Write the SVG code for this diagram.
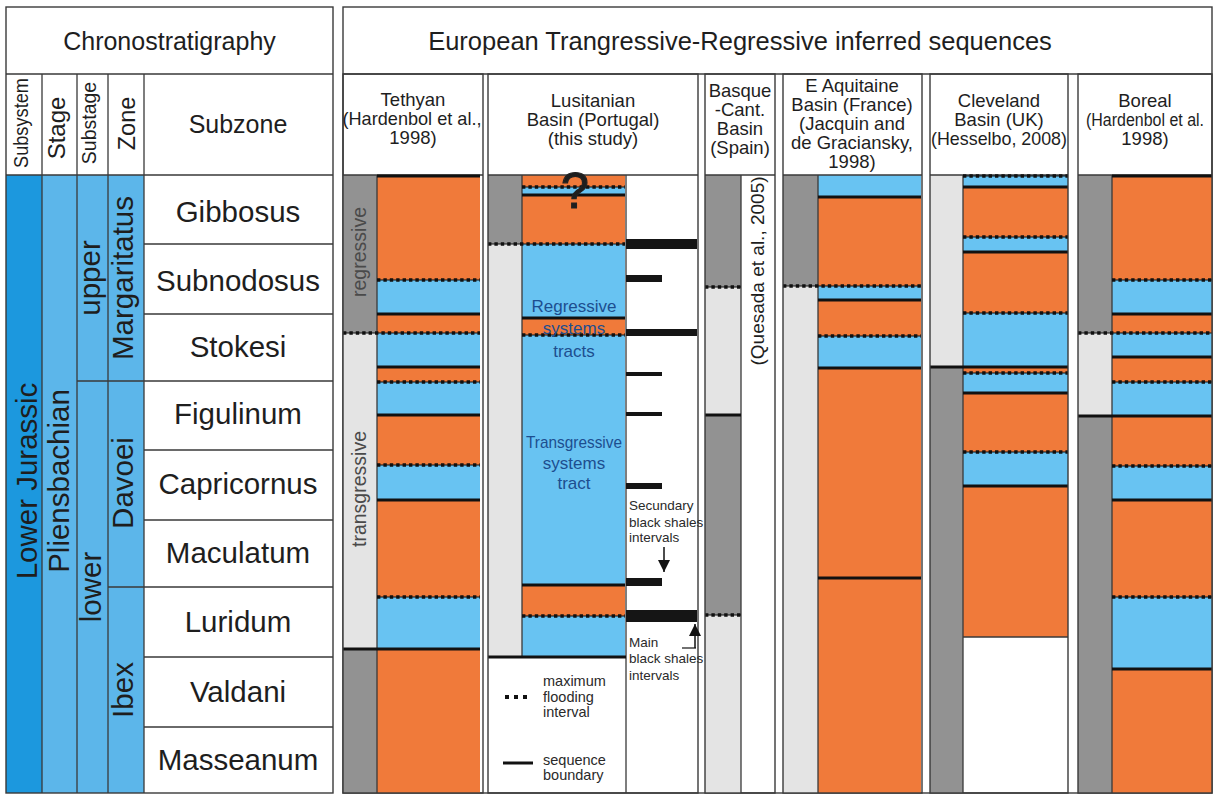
<svg xmlns="http://www.w3.org/2000/svg" width="1213" height="794" viewBox="0 0 1213 794">
<style>
text{font-family:"Liberation Sans",Arial,sans-serif;fill:#1e1e1e}
.o{fill:#F07A3A}
.b{fill:#68C3F2}
.dg{fill:#929292}
.lg{fill:#E4E4E4}
.c1{fill:#1C98DE}
.c2{fill:#5CB6EA}
.frame{fill:none;stroke:#3a3a3a;stroke-width:1.4}
.thin{fill:none;stroke:#3a3a3a;stroke-width:1.3}
.sb{fill:none;stroke:#111;stroke-width:3}
.mf{fill:none;stroke:#111;stroke-width:1.2}
.mfd{fill:none;stroke:#111;stroke-width:3.6;stroke-dasharray:3.4 3}
.bs{fill:#151515}
.h{font-size:18.5px;text-anchor:middle}
.big{font-size:25px;text-anchor:middle}
.sz{font-size:29.5px;text-anchor:middle}
.tr{font-size:19.5px;text-anchor:middle;fill:#4a4a4a}
.sys{font-size:17px;text-anchor:middle;fill:#1d4e8f}
.note{font-size:13.5px;fill:#2a2a2a}
.leg{font-size:14.5px;fill:#2a2a2a}
</style>
<defs>
<marker id="ah" viewBox="0 0 10 10" refX="10" refY="5" markerWidth="12" markerHeight="14" markerUnits="userSpaceOnUse" orient="auto">
<path d="M0 0L10 5L0 10Z" fill="#111"/>
</marker>
<!-- maximum flooding surfaces, one path per column -->
<path id="mfT" d="M377 280H480M343 333H480M377 382H480M377 465H480M377 597H480"/>
<path id="mfL" d="M522 187H625M488 244H625M522 335H625M522 616H625"/>
<path id="mfB" d="M705 287H741M705 615H741"/>
<path id="mfA" d="M783 286H921M818 336H921"/>
<path id="mfC" d="M963 176H1068M963 237H1068M963 313H1068M963 373H1068M963 452H1068"/>
<path id="mfR" d="M1112 280H1212M1078 333H1212M1112 382H1212M1112 466H1212M1112 597H1212"/>
</defs>
<rect width="1213" height="794" fill="#fff"/>

<!-- Chronostratigraphy panel -->
<g id="chrono">
<rect class="c1" x="6" y="175" width="36" height="618"/>
<rect class="c2" x="42" y="175" width="102" height="618"/>
<path class="thin" d="M6 74H333M6 175H333M144 244H333M144 314H333M77 381H333M144 450H333M144 520H333M108 587H333M144 657H333M144 727H333M42 74V793M77 74V793M108 74V793M144 74V793"/>
<rect class="frame" x="6" y="7" width="327" height="786"/>
<text class="big" x="169.5" y="50">Chronostratigraphy</text>
<text class="big" x="238" y="133">Subzone</text>
<text font-size="20" text-anchor="middle" textLength="90" lengthAdjust="spacingAndGlyphs" transform="translate(28 123) rotate(-90)">Subsystem</text>
<text font-size="24" text-anchor="middle" transform="translate(65 128) rotate(-90)">Stage</text>
<text font-size="19.5" text-anchor="middle" transform="translate(96 123) rotate(-90)">Substage</text>
<text font-size="23.5" text-anchor="middle" transform="translate(135 123.5) rotate(-90)">Zone</text>
<text class="sz" transform="translate(37 481) rotate(-90)">Lower Jurassic</text>
<text class="sz" transform="translate(69 481) rotate(-90)">Pliensbachian</text>
<text class="sz" transform="translate(100 278) rotate(-90)">upper</text>
<text class="sz" transform="translate(101 587) rotate(-90)">lower</text>
<text class="sz" transform="translate(133 278) rotate(-90)">Margaritatus</text>
<text class="sz" transform="translate(133 483) rotate(-90)">Davoei</text>
<text class="sz" transform="translate(133 690) rotate(-90)">Ibex</text>
<text class="sz" x="238" y="222">Gibbosus</text>
<text class="sz" x="238" y="291">Subnodosus</text>
<text class="sz" x="238" y="357">Stokesi</text>
<text class="sz" x="238" y="424">Figulinum</text>
<text class="sz" x="238" y="494">Capricornus</text>
<text class="sz" x="238" y="563">Maculatum</text>
<text class="sz" x="238" y="632">Luridum</text>
<text class="sz" x="238" y="702">Valdani</text>
<text class="sz" x="238" y="770">Masseanum</text>
</g>

<!-- Sequences panel frame and title -->
<g id="panel">
<rect class="frame" x="343" y="7" width="869" height="786"/>
<path class="thin" d="M343 74H1212"/>
<text x="740" y="50" font-size="25.5" text-anchor="middle">European Trangressive-Regressive inferred sequences</text>
</g>

<!-- Tethyan -->
<g id="tethyan">
<rect class="dg" x="343" y="175" width="34" height="158"/>
<rect class="lg" x="343" y="333" width="34" height="316"/>
<rect class="dg" x="343" y="649" width="34" height="144"/>
<rect class="o" x="377" y="175" width="103" height="618"/>
<rect class="b" x="377" y="280" width="103" height="34"/>
<rect class="b" x="377" y="333" width="103" height="34"/>
<rect class="b" x="377" y="382" width="103" height="33"/>
<rect class="b" x="377" y="465" width="103" height="35"/>
<rect class="b" x="377" y="597" width="103" height="52"/>
<path class="thin" d="M377 175V793M343 175H483"/>
<path class="sb" d="M377 176H480M377 314H480M377 367H480M377 415H480M377 500H480M343 649H480"/>
<use href="#mfT" class="mf"/>
<use href="#mfT" class="mfd"/>
<rect class="frame" x="343" y="74" width="140" height="719"/>
<text class="h" x="413" y="106">Tethyan</text>
<text class="h" x="412" y="125" textLength="139" lengthAdjust="spacingAndGlyphs">(Hardenbol et al.,</text>
<text class="h" x="413" y="144">1998)</text>
<text class="tr" transform="translate(366 252) rotate(-90)">regressive</text>
<text class="tr" transform="translate(366 489) rotate(-90)">transgressive</text>
</g>

<!-- Lusitanian Basin -->
<g id="lusitanian">
<rect class="dg" x="488" y="175" width="34" height="69"/>
<rect class="lg" x="488" y="244" width="34" height="413"/>
<rect class="o" x="522" y="175" width="103" height="482"/>
<rect class="b" x="522" y="187" width="103" height="8"/>
<rect class="b" x="522" y="244" width="103" height="74"/>
<rect class="b" x="522" y="335" width="103" height="250"/>
<rect class="b" x="522" y="616" width="103" height="41"/>
<path class="thin" d="M522 175V657M626 175V793M488 175H698"/>
<path class="sb" d="M522 195H625M522 318H625M522 585H625M488 657H626"/>
<use href="#mfL" class="mf"/>
<use href="#mfL" class="mfd"/>
<rect class="bs" x="626" y="239" width="71" height="10"/>
<rect class="bs" x="626" y="275" width="36" height="7"/>
<rect class="bs" x="626" y="329" width="71" height="7"/>
<rect class="bs" x="626" y="372" width="36" height="4"/>
<rect class="bs" x="626" y="412" width="36" height="4"/>
<rect class="bs" x="626" y="483" width="36" height="6"/>
<rect class="bs" x="626" y="578" width="36" height="8"/>
<rect class="bs" x="626" y="610" width="71" height="12"/>
<rect class="frame" x="488" y="74" width="210" height="719"/>
<text class="h" x="593" y="107">Lusitanian</text>
<text class="h" x="593" y="126">Basin (Portugal)</text>
<text class="h" x="593" y="145">(this study)</text>
<text x="575" y="208" font-size="50" text-anchor="middle" fill="#222" stroke="#222" stroke-width="1.2">?</text>
<text class="sys" x="574" y="312">Regressive</text>
<text class="sys" x="574" y="334">systems</text>
<text class="sys" x="574" y="357">tracts</text>
<text class="sys" x="574" y="448" textLength="96" lengthAdjust="spacingAndGlyphs">Transgressive</text>
<text class="sys" x="574" y="469">systems</text>
<text class="sys" x="574" y="489">tract</text>
<text class="note" x="629" y="510">Secundary</text>
<text class="note" x="629" y="527">black shales</text>
<text class="note" x="629" y="542">intervals</text>
<text class="note" x="629" y="647">Main</text>
<text class="note" x="629" y="663">black shales</text>
<text class="note" x="629" y="680">intervals</text>
</g>

<!-- Legend inside the Lusitanian column -->
<g id="legend">
<path d="M505 697H529" fill="none" stroke="#111" stroke-width="4" stroke-dasharray="4 5"/>
<path class="sb" d="M503 763H533" stroke-width="4"/>
<text class="leg" x="543" y="686">maximum</text>
<text class="leg" x="543" y="702">flooding</text>
<text class="leg" x="543" y="717">interval</text>
<text class="leg" x="543" y="765">sequence</text>
<text class="leg" x="543" y="780">boundary</text>
</g>

<!-- Basque-Cantabrian Basin -->
<g id="basque">
<rect class="dg" x="705" y="175" width="36" height="112"/>
<rect class="lg" x="705" y="287" width="36" height="128"/>
<rect class="dg" x="705" y="415" width="36" height="200"/>
<rect class="lg" x="705" y="615" width="36" height="178"/>
<path class="thin" d="M741 175V793M705 175H775"/>
<path class="sb" d="M705 415H741"/>
<use href="#mfB" class="mf"/>
<use href="#mfB" class="mfd"/>
<rect class="frame" x="705" y="74" width="70" height="719"/>
<text class="h" x="740" y="97">Basque</text>
<text class="h" x="740" y="116">-Cant.</text>
<text class="h" x="740" y="135">Basin</text>
<text class="h" x="740" y="154">(Spain)</text>
<text font-size="19" text-anchor="middle" transform="translate(764 271) rotate(-90)">(Quesada et al., 2005)</text>
</g>

<!-- E Aquitaine Basin -->
<g id="aquitaine">
<rect class="dg" x="783" y="175" width="35" height="111"/>
<rect class="lg" x="783" y="286" width="35" height="507"/>
<rect class="o" x="818" y="175" width="103" height="618"/>
<rect class="b" x="818" y="175" width="103" height="22"/>
<rect class="b" x="818" y="286" width="103" height="14"/>
<rect class="b" x="818" y="336" width="103" height="32"/>
<path class="thin" d="M818 175V793M783 175H922"/>
<path class="sb" d="M818 197H921M818 300H921M818 368H921M818 578H921"/>
<use href="#mfA" class="mf"/>
<use href="#mfA" class="mfd"/>
<rect class="frame" x="783" y="74" width="139" height="719"/>
<text class="h" x="852" y="92">E Aquitaine</text>
<text class="h" x="852" y="111">Basin (France)</text>
<text class="h" x="852" y="130">(Jacquin and</text>
<text class="h" x="852" y="149">de Graciansky,</text>
<text class="h" x="852" y="168">1998)</text>
</g>

<!-- Cleveland Basin -->
<g id="cleveland">
<rect class="lg" x="930" y="175" width="33" height="192"/>
<rect class="dg" x="930" y="367" width="33" height="426"/>
<rect class="o" x="963" y="175" width="105" height="462"/>
<rect class="b" x="963" y="175" width="105" height="12"/>
<rect class="b" x="963" y="237" width="105" height="15"/>
<rect class="b" x="963" y="313" width="105" height="54"/>
<rect class="b" x="963" y="373" width="105" height="20"/>
<rect class="b" x="963" y="452" width="105" height="34"/>
<path class="thin" d="M963 175V793M930 175H1068M963 637H1068"/>
<path class="sb" d="M963 187H1068M963 252H1068M930 367H1068M963 393H1068M963 486H1068"/>
<use href="#mfC" class="mf"/>
<use href="#mfC" class="mfd"/>
<rect class="frame" x="930" y="74" width="138" height="719"/>
<text class="h" x="999" y="107">Cleveland</text>
<text class="h" x="999" y="126">Basin (UK)</text>
<text class="h" x="999" y="145" textLength="136" lengthAdjust="spacingAndGlyphs">(Hesselbo, 2008)</text>
</g>

<!-- Boreal -->
<g id="boreal">
<rect class="dg" x="1078" y="175" width="34" height="158"/>
<rect class="lg" x="1078" y="333" width="34" height="83"/>
<rect class="dg" x="1078" y="416" width="34" height="377"/>
<rect class="o" x="1112" y="175" width="100" height="618"/>
<rect class="b" x="1112" y="280" width="100" height="34"/>
<rect class="b" x="1112" y="333" width="100" height="24"/>
<rect class="b" x="1112" y="382" width="100" height="34"/>
<rect class="b" x="1112" y="466" width="100" height="34"/>
<rect class="b" x="1112" y="597" width="100" height="72"/>
<path class="thin" d="M1112 175V793M1078 175H1212"/>
<path class="sb" d="M1112 176H1212M1112 314H1212M1112 357H1212M1078 416H1212M1112 500H1212M1112 669H1212"/>
<use href="#mfR" class="mf"/>
<use href="#mfR" class="mfd"/>
<rect class="frame" x="1078" y="74" width="134" height="719"/>
<text class="h" x="1145" y="107">Boreal</text>
<text x="1145" y="126" font-size="17.5" text-anchor="middle" textLength="118" lengthAdjust="spacingAndGlyphs">(Hardenbol et al.</text>
<text class="h" x="1145" y="145">1998)</text>
</g>

<!-- Arrows pointing at the black shale intervals -->
<g id="connectors">
<path d="M664 547V572" stroke="#111" stroke-width="1.5" marker-end="url(#ah)"/>
<path d="M695 648V624" stroke="#111" stroke-width="1.5" marker-end="url(#ah)"/>
<path d="M682 648H696" stroke="#111" stroke-width="1.2"/>
</g>
</svg>
